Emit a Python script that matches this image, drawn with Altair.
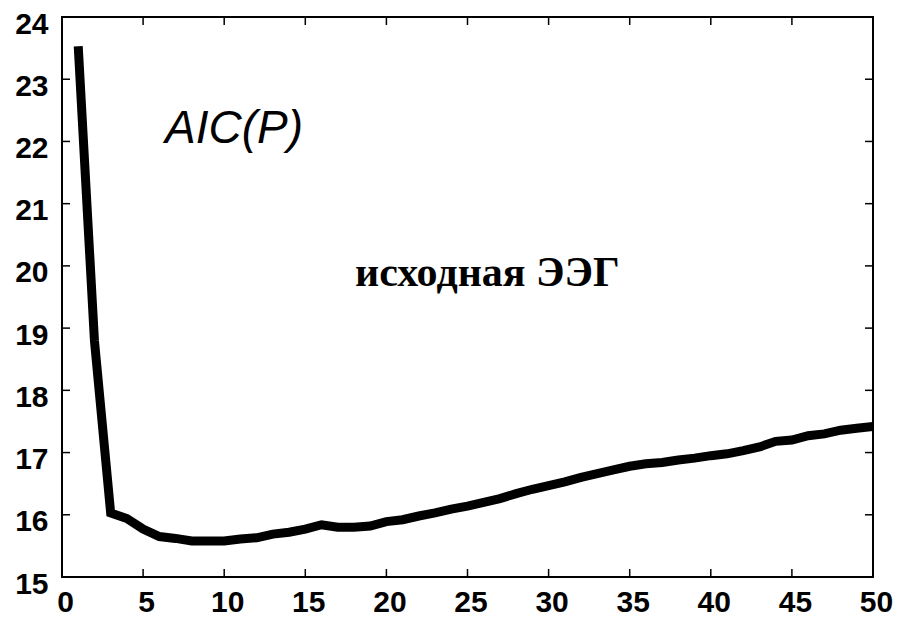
import altair as alt
import pandas as pd

# Model order P and the Akaike criterion AIC(P) for the source EEG
order_p = list(range(1, 51))
aic_values = [
    23.53, 18.80, 16.03, 15.94, 15.77, 15.65, 15.62, 15.58, 15.58, 15.58,
    15.61, 15.63, 15.69, 15.72, 15.77, 15.84, 15.80, 15.80, 15.82, 15.89,
    15.92, 15.98, 16.03, 16.09, 16.14, 16.20, 16.26, 16.34, 16.41, 16.47,
    16.53, 16.60, 16.66, 16.72, 16.78, 16.82, 16.84, 16.88, 16.91, 16.95,
    16.98, 17.03, 17.09, 17.18, 17.20, 17.27, 17.30, 17.36, 17.39, 17.42,
]

x_ticks = [0, 5, 10, 15, 20, 25, 30, 35, 40, 45, 50]
y_ticks = [15, 16, 17, 18, 19, 20, 21, 22, 23, 24]
x_inner_ticks = [5, 10, 15, 20, 25, 30, 35, 40, 45]
y_inner_ticks = [16, 17, 18, 19, 20, 21, 22, 23]

W, H = 811, 560
TICK = 8

curve = pd.DataFrame({"P": order_p, "AIC": aic_values})
xt = pd.DataFrame({"P": x_inner_ticks})
yt = pd.DataFrame({"AIC": y_inner_ticks})

label_font = "Liberation Sans"

x_scale = alt.Scale(domain=[0, 50], nice=False, zero=False)
y_scale = alt.Scale(domain=[15, 24], nice=False, zero=False)

x_enc = alt.X(
    "P:Q", scale=x_scale, title=None,
    axis=alt.Axis(values=x_ticks, format="d", tickSize=0, domain=False, grid=False,
                  labelFont=label_font, labelFontSize=30, labelFontWeight="bold",
                  labelColor="black", labelPadding=10, labelOffset=3,
                  labelFlush=False, labelOverlap=False),
)
y_enc = alt.Y(
    "AIC:Q", scale=y_scale, title=None,
    axis=alt.Axis(values=y_ticks, format="d", tickSize=0, domain=False, grid=False,
                  labelFont=label_font, labelFontSize=30, labelFontWeight="bold",
                  labelColor="black", labelPadding=14, labelOffset=7,
                  labelFlush=False, labelOverlap=False),
)

line = alt.Chart(curve).mark_line(
    color="black", strokeWidth=9, strokeCap="butt", strokeJoin="miter", clip=True
).encode(x=x_enc, y=y_enc)

# plot frame
frame = alt.Chart(pd.DataFrame({"k": [0]})).mark_rect(
    fill=None, stroke="black", strokeWidth=2
).encode(x=alt.value(0), x2=alt.value(W), y=alt.value(0), y2=alt.value(H))

# inward tick marks on all four sides of the frame
bottom_ticks = alt.Chart(xt).mark_rule(color="black", strokeWidth=1.5).encode(
    x=alt.X("P:Q", scale=x_scale), y=alt.value(H), y2=alt.value(H - TICK))
top_ticks = alt.Chart(xt).mark_rule(color="black", strokeWidth=1.5).encode(
    x=alt.X("P:Q", scale=x_scale), y=alt.value(0), y2=alt.value(TICK))
left_ticks = alt.Chart(yt).mark_rule(color="black", strokeWidth=1.5).encode(
    y=alt.Y("AIC:Q", scale=y_scale), x=alt.value(0), x2=alt.value(TICK))
right_ticks = alt.Chart(yt).mark_rule(color="black", strokeWidth=1.5).encode(
    y=alt.Y("AIC:Q", scale=y_scale), x=alt.value(W), x2=alt.value(W - TICK))

# annotations
aic_label = alt.Chart(pd.DataFrame({"P": [6.35], "AIC": [21.97], "t": ["AIC(P)"]})).mark_text(
    font="Liberation Sans", fontSize=46,
    fontStyle="italic", align="left", baseline="alphabetic", color="black"
).encode(x=alt.X("P:Q", scale=x_scale), y=alt.Y("AIC:Q", scale=y_scale), text="t:N")

eeg_label = alt.Chart(pd.DataFrame({"P": [18.06], "AIC": [19.67], "t": ["исходная ЭЭГ"]})).mark_text(
    font='"Liberation Serif", "Times New Roman", serif', fontSize=42,
    fontWeight="bold", align="left", baseline="alphabetic", color="black"
).encode(x=alt.X("P:Q", scale=x_scale), y=alt.Y("AIC:Q", scale=y_scale), text="t:N")

chart = alt.layer(
    line, frame, bottom_ticks, top_ticks, left_ticks, right_ticks, aic_label, eeg_label
).properties(
    width=W, height=H,
    background="white",
    autosize=alt.AutoSizeParams(type="none"),
    padding={"left": 62, "top": 17, "right": 26, "bottom": 40},
).configure_view(
    stroke=None
)

chart.save("out.html", embed_options={"renderer": "svg", "actions": False})
